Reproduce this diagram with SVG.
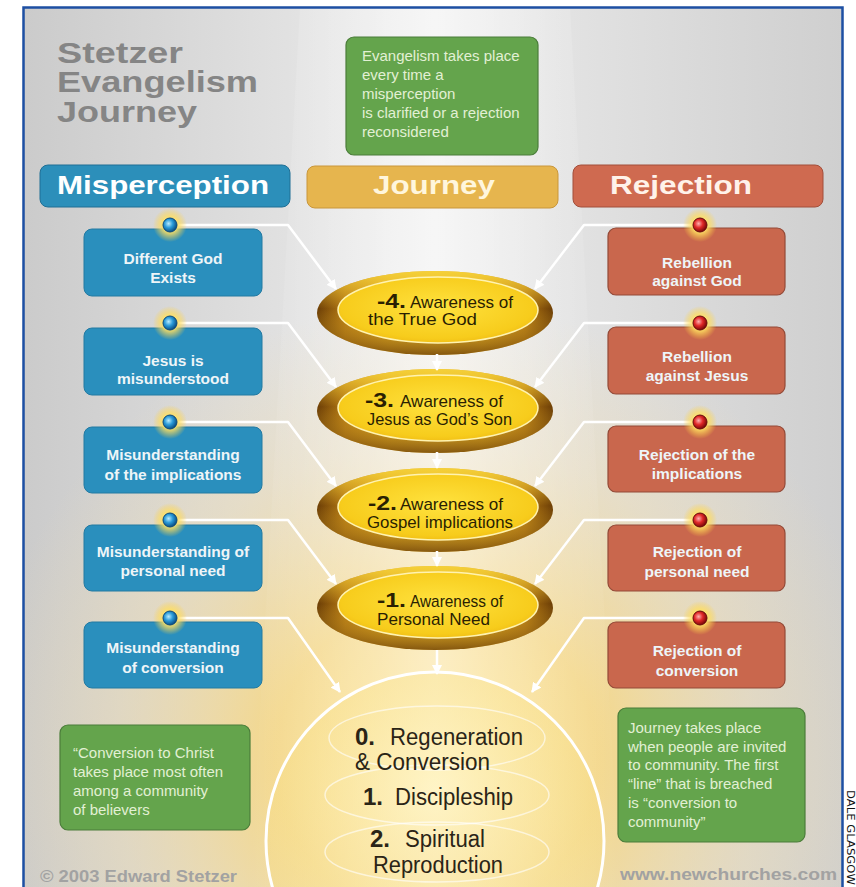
<svg xmlns="http://www.w3.org/2000/svg" width="856" height="887" viewBox="0 0 856 887">
<style>
.f{font-family:"Liberation Sans",Arial,sans-serif}
.title{font-weight:bold;font-size:29px;fill:#858585}
.hdr{font-weight:bold;font-size:25px}
.bt{font-weight:bold;font-size:15.5px;fill:#eef5f8;text-anchor:middle}
.gt{font-size:15px;fill:#e2f0d4}
.en{font-weight:bold;font-size:20px;fill:#2a1f02}
.et{font-size:17px;fill:#2a1f02}
.cn{font-weight:bold;font-size:24px;fill:#2a2416}
.ct{font-size:23px;fill:#2a2416}
.foot{font-weight:bold;font-size:16px;fill:#a2a2a2}
.conn{fill:none;stroke:#ffffff;stroke-width:2.5;stroke-linejoin:round}
.lbox{fill:#2a8fbd;stroke:#237aa2;stroke-width:1}
.rbox{fill:#c9674d;stroke:#934a38;stroke-width:1.2}
.gbox{fill:#64a44c;stroke:#4b7d3a;stroke-width:1.2}
</style>
<defs>
<linearGradient id="bg" x1="0" y1="0" x2="1" y2="0">
<stop offset="0" stop-color="#cbcbcb"/><stop offset="0.35" stop-color="#e3e3e3"/><stop offset="0.5" stop-color="#eeeeee"/><stop offset="0.65" stop-color="#e3e3e3"/><stop offset="1" stop-color="#cfcfcf"/>
</linearGradient>
<radialGradient id="glow" gradientUnits="userSpaceOnUse" cx="437" cy="760" r="460">
<stop offset="0" stop-color="#ffe488" stop-opacity="1"/><stop offset="0.35" stop-color="#f7d67c" stop-opacity="0.85"/><stop offset="0.7" stop-color="#efdcae" stop-opacity="0.45"/><stop offset="1" stop-color="#efdcae" stop-opacity="0"/>
</radialGradient>
<linearGradient id="beam" x1="0" y1="0" x2="1" y2="0">
<stop offset="0" stop-color="#ffffff" stop-opacity="0"/><stop offset="0.5" stop-color="#ffffff" stop-opacity="0.5"/><stop offset="1" stop-color="#ffffff" stop-opacity="0"/>
</linearGradient>
<linearGradient id="rim" x1="0" y1="0" x2="1" y2="0">
<stop offset="0" stop-color="#6b3d06"/><stop offset="0.12" stop-color="#b57a14"/><stop offset="0.3" stop-color="#e0a820"/><stop offset="0.5" stop-color="#ebb62a"/><stop offset="0.7" stop-color="#e0a820"/><stop offset="0.88" stop-color="#b57a14"/><stop offset="1" stop-color="#6b3d06"/>
</linearGradient>
<linearGradient id="rimv" x1="0" y1="0" x2="0" y2="1">
<stop offset="0" stop-color="#f6d43a" stop-opacity="0.9"/><stop offset="0.45" stop-color="#f0c030" stop-opacity="0"/><stop offset="1" stop-color="#5a3005" stop-opacity="0.7"/>
</linearGradient>
<radialGradient id="face" cx="0.5" cy="0.45" r="0.6">
<stop offset="0" stop-color="#ffe23e"/><stop offset="0.8" stop-color="#f7cc1c"/><stop offset="1" stop-color="#eeb812"/>
</radialGradient>
<radialGradient id="big" cx="0.5" cy="0.35" r="0.6">
<stop offset="0" stop-color="#fff6c8" stop-opacity="0.7"/><stop offset="1" stop-color="#f6d872" stop-opacity="0.3"/>
</radialGradient>
<radialGradient id="halo">
<stop offset="0" stop-color="#fff2a0" stop-opacity="1"/><stop offset="0.5" stop-color="#ffdf60" stop-opacity="0.8"/><stop offset="1" stop-color="#ffd040" stop-opacity="0"/>
</radialGradient>
<radialGradient id="bdot" cx="0.4" cy="0.4" r="0.6">
<stop offset="0" stop-color="#b8ecff"/><stop offset="0.5" stop-color="#2a9ad8"/><stop offset="1" stop-color="#0b4f86"/>
</radialGradient>
<radialGradient id="rdot" cx="0.4" cy="0.4" r="0.6">
<stop offset="0" stop-color="#ffb0b0"/><stop offset="0.5" stop-color="#e02828"/><stop offset="1" stop-color="#7a0808"/>
</radialGradient>
<marker id="ah" viewBox="0 0 10 10" refX="9" refY="5" markerWidth="10" markerHeight="10" markerUnits="userSpaceOnUse" orient="auto">
<path d="M0,0 L10,5 L0,10 Z" fill="#ffffff"/>
</marker>
<g id="bd"><circle r="17" fill="url(#halo)"/><circle r="7" fill="url(#bdot)" stroke="#0d4a7a" stroke-width="1"/></g>
<g id="rd"><circle r="17" fill="url(#halo)"/><circle r="7" fill="url(#rdot)" stroke="#6a0a0a" stroke-width="1"/></g>
</defs>

<rect x="0" y="0" width="856" height="887" fill="#ffffff"/>
<g id="background">
<rect x="24" y="8" width="819" height="885" fill="url(#bg)"/>
<rect x="24" y="8" width="819" height="885" fill="url(#glow)"/>
<polygon points="300,8 570,8 620,887 250,887" fill="url(#beam)"/>
<rect x="23.5" y="7.5" width="819" height="890" fill="none" stroke="#1d4fa3" stroke-width="2.5"/>
</g>

<g id="title" class="f">
<text class="title" x="57" y="63" textLength="126" lengthAdjust="spacingAndGlyphs">Stetzer</text>
<text class="title" x="57" y="92" textLength="201" lengthAdjust="spacingAndGlyphs">Evangelism</text>
<text class="title" x="57" y="122" textLength="140" lengthAdjust="spacingAndGlyphs">Journey</text>
</g>

<g id="note-top" class="f">
<rect class="gbox" x="346" y="37" width="192" height="118" rx="8"/>
<text class="gt" x="362" y="61">Evangelism takes place</text>
<text class="gt" x="362" y="80">every time a</text>
<text class="gt" x="362" y="99">misperception</text>
<text class="gt" x="362" y="118">is clarified or a rejection</text>
<text class="gt" x="362" y="137">reconsidered</text>
</g>

<g id="hdr-misperception" class="f">
<rect x="40" y="165" width="250" height="42" rx="8" fill="#2c8fba" stroke="#1f6f95"/>
<text class="hdr" x="57" y="194" fill="#ffffff" textLength="212" lengthAdjust="spacingAndGlyphs">Misperception</text>
</g>
<g id="hdr-journey" class="f">
<rect x="307" y="166" width="251" height="42" rx="8" fill="#e6b54e" stroke="#c9963a"/>
<text class="hdr" x="373" y="194" fill="#fff6dc" textLength="122" lengthAdjust="spacingAndGlyphs">Journey</text>
</g>
<g id="hdr-rejection" class="f">
<rect x="573" y="165" width="250" height="42" rx="8" fill="#cf6a50" stroke="#a24e3a"/>
<text class="hdr" x="610" y="194" fill="#fff2ea" textLength="142" lengthAdjust="spacingAndGlyphs">Rejection</text>
</g>

<g id="final-circle" class="f">
<circle cx="435" cy="841" r="169" fill="url(#big)" stroke="#ffffff" stroke-width="3"/>
<g fill="none" stroke="#ffffff" stroke-opacity="0.6" stroke-width="1.5">
<ellipse cx="437" cy="738" rx="108" ry="32"/>
<ellipse cx="437" cy="795" rx="112" ry="30"/>
<ellipse cx="437" cy="852" rx="112" ry="30"/>
</g>
<text class="cn" x="355" y="745">0.</text>
<text class="ct" x="390" y="745" textLength="133" lengthAdjust="spacingAndGlyphs">Regeneration</text>
<text class="ct" x="355" y="770" textLength="135" lengthAdjust="spacingAndGlyphs">&amp; Conversion</text>
<text class="cn" x="363" y="805">1.</text>
<text class="ct" x="395" y="805" textLength="118" lengthAdjust="spacingAndGlyphs">Discipleship</text>
<text class="cn" x="370" y="847">2.</text>
<text class="ct" x="405" y="847" textLength="80" lengthAdjust="spacingAndGlyphs">Spiritual</text>
<text class="ct" x="373" y="873" textLength="130" lengthAdjust="spacingAndGlyphs">Reproduction</text>
</g>

<g id="stage-4" class="f">
<ellipse cx="435" cy="313" rx="118" ry="42" fill="url(#rim)"/>
<ellipse cx="435" cy="313" rx="118" ry="42" fill="url(#rimv)"/>
<ellipse cx="438" cy="310" rx="100" ry="33" fill="url(#face)" stroke="#fff3b0" stroke-width="1.5"/>
<text class="en" x="377" y="308" textLength="29" lengthAdjust="spacingAndGlyphs">-4.</text>
<text class="et" x="410" y="308" textLength="103" lengthAdjust="spacingAndGlyphs">Awareness of</text>
<text class="et" x="368" y="325" textLength="109" lengthAdjust="spacingAndGlyphs">the True God</text>
</g>
<g id="stage-3" class="f">
<ellipse cx="435" cy="411" rx="118" ry="42" fill="url(#rim)"/>
<ellipse cx="435" cy="411" rx="118" ry="42" fill="url(#rimv)"/>
<ellipse cx="438" cy="408" rx="100" ry="33" fill="url(#face)" stroke="#fff3b0" stroke-width="1.5"/>
<text class="en" x="365" y="407" textLength="29" lengthAdjust="spacingAndGlyphs">-3.</text>
<text class="et" x="400" y="407" textLength="103" lengthAdjust="spacingAndGlyphs">Awareness of</text>
<text class="et" x="367" y="425" textLength="145" lengthAdjust="spacingAndGlyphs">Jesus as God’s Son</text>
</g>
<g id="stage-2" class="f">
<ellipse cx="435" cy="510" rx="118" ry="42" fill="url(#rim)"/>
<ellipse cx="435" cy="510" rx="118" ry="42" fill="url(#rimv)"/>
<ellipse cx="438" cy="507" rx="100" ry="33" fill="url(#face)" stroke="#fff3b0" stroke-width="1.5"/>
<text class="en" x="368" y="510" textLength="29" lengthAdjust="spacingAndGlyphs">-2.</text>
<text class="et" x="400" y="510" textLength="103" lengthAdjust="spacingAndGlyphs">Awareness of</text>
<text class="et" x="367" y="528" textLength="146" lengthAdjust="spacingAndGlyphs">Gospel implications</text>
</g>
<g id="stage-1" class="f">
<ellipse cx="435" cy="608" rx="118" ry="42" fill="url(#rim)"/>
<ellipse cx="435" cy="608" rx="118" ry="42" fill="url(#rimv)"/>
<ellipse cx="438" cy="605" rx="100" ry="33" fill="url(#face)" stroke="#fff3b0" stroke-width="1.5"/>
<text class="en" x="377" y="607" textLength="29" lengthAdjust="spacingAndGlyphs">-1.</text>
<text class="et" x="410" y="607" textLength="93" lengthAdjust="spacingAndGlyphs">Awareness of</text>
<text class="et" x="377" y="625" textLength="113" lengthAdjust="spacingAndGlyphs">Personal Need</text>
</g>

<g id="connectors" class="conn" marker-end="url(#ah)">
<path d="M170,225 H288 L336,289"/>
<path d="M170,323 H288 L336,387"/>
<path d="M170,422 H288 L336,486"/>
<path d="M170,520 H288 L336,584"/>
<path d="M170,618 H288 L340,692"/>
<path d="M700,225 H584 L535,289"/>
<path d="M700,323 H584 L535,387"/>
<path d="M700,422 H584 L535,486"/>
<path d="M700,520 H584 L535,584"/>
<path d="M700,618 H584 L532,692"/>
<path d="M437,354 V370"/>
<path d="M437,452 V468"/>
<path d="M437,551 V566"/>
<path d="M437,650 V674"/>
</g>

<g id="mis-1" class="f"><rect class="lbox" x="84" y="229" width="178" height="67" rx="8"/><use href="#bd" x="170" y="225"/><text class="bt" x="173" y="264">Different God</text><text class="bt" x="173" y="283">Exists</text></g>
<g id="mis-2" class="f"><rect class="lbox" x="84" y="328" width="178" height="67" rx="8"/><use href="#bd" x="170" y="323"/><text class="bt" x="173" y="366">Jesus is</text><text class="bt" x="173" y="384">misunderstood</text></g>
<g id="mis-3" class="f"><rect class="lbox" x="84" y="427" width="178" height="66" rx="8"/><use href="#bd" x="170" y="422"/><text class="bt" x="173" y="460">Misunderstanding</text><text class="bt" x="173" y="480">of the implications</text></g>
<g id="mis-4" class="f"><rect class="lbox" x="84" y="525" width="178" height="66" rx="8"/><use href="#bd" x="170" y="520"/><text class="bt" x="173" y="557">Misunderstanding of</text><text class="bt" x="173" y="576">personal need</text></g>
<g id="mis-5" class="f"><rect class="lbox" x="84" y="622" width="178" height="66" rx="8"/><use href="#bd" x="170" y="618"/><text class="bt" x="173" y="653">Misunderstanding</text><text class="bt" x="173" y="673">of conversion</text></g>

<g id="rej-1" class="f"><rect class="rbox" x="608" y="228" width="177" height="67" rx="8"/><use href="#rd" x="700" y="225"/><text class="bt" x="697" y="268">Rebellion</text><text class="bt" x="697" y="286">against God</text></g>
<g id="rej-2" class="f"><rect class="rbox" x="608" y="327" width="177" height="67" rx="8"/><use href="#rd" x="700" y="323"/><text class="bt" x="697" y="362">Rebellion</text><text class="bt" x="697" y="381">against Jesus</text></g>
<g id="rej-3" class="f"><rect class="rbox" x="608" y="426" width="177" height="66" rx="8"/><use href="#rd" x="700" y="422"/><text class="bt" x="697" y="460">Rejection of the</text><text class="bt" x="697" y="479">implications</text></g>
<g id="rej-4" class="f"><rect class="rbox" x="608" y="525" width="177" height="66" rx="8"/><use href="#rd" x="700" y="520"/><text class="bt" x="697" y="557">Rejection of</text><text class="bt" x="697" y="577">personal need</text></g>
<g id="rej-5" class="f"><rect class="rbox" x="608" y="622" width="177" height="66" rx="8"/><use href="#rd" x="700" y="618"/><text class="bt" x="697" y="656">Rejection of</text><text class="bt" x="697" y="676">conversion</text></g>

<g id="note-left" class="f">
<rect class="gbox" x="60" y="725" width="190" height="105" rx="8"/>
<text class="gt" x="73" y="758">“Conversion to Christ</text>
<text class="gt" x="73" y="777">takes place most often</text>
<text class="gt" x="73" y="796">among a community</text>
<text class="gt" x="73" y="815">of believers</text>
</g>
<g id="note-right" class="f">
<rect class="gbox" x="618" y="708" width="187" height="134" rx="8"/>
<text class="gt" x="628" y="733">Journey takes place</text>
<text class="gt" x="628" y="752">when people are invited</text>
<text class="gt" x="628" y="770">to community. The first</text>
<text class="gt" x="628" y="789">“line” that is breached</text>
<text class="gt" x="628" y="808">is “conversion to</text>
<text class="gt" x="628" y="827">community”</text>
</g>

<g id="footer" class="f">
<text class="foot" x="40" y="882" textLength="197" lengthAdjust="spacingAndGlyphs">© 2003 Edward Stetzer</text>
<text class="foot" x="620" y="880" textLength="217" lengthAdjust="spacingAndGlyphs">www.newchurches.com</text>
<text transform="translate(847,790) rotate(90)" font-family="'DejaVu Sans',sans-serif" font-size="11" fill="#111111" textLength="95" lengthAdjust="spacingAndGlyphs">DALE GLASGOW</text>
</g>
</svg>
